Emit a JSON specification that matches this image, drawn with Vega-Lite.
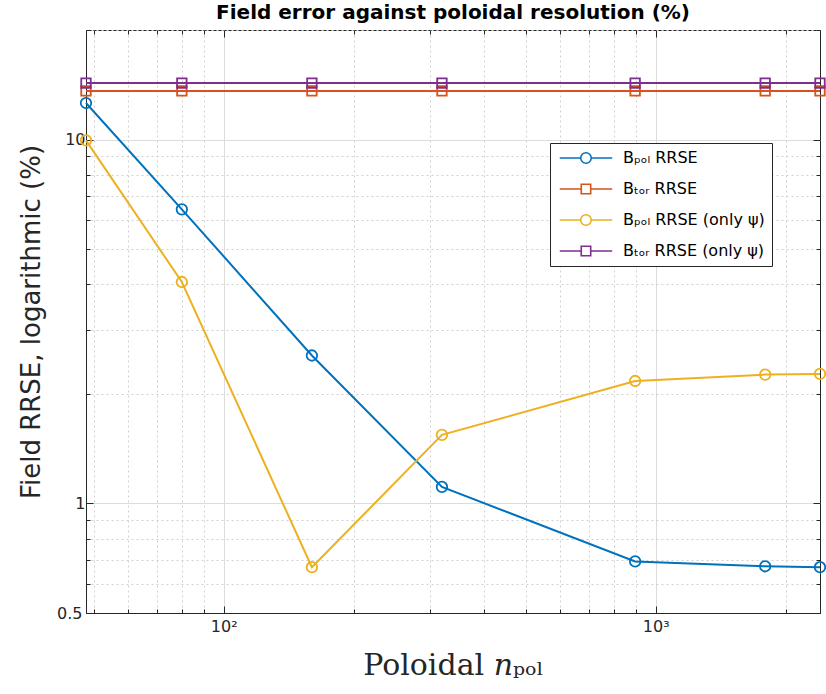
{
  "$schema": "https://vega.github.io/schema/vega-lite/v6.json",
  "autosize": {"type": "none"},
  "padding": {"left": 86, "top": 30, "right": 6, "bottom": 81},
  "width": 734,
  "height": 583,
  "background": "white",
  "title": {
    "text": "Field error against poloidal resolution (%)",
    "font": "DejaVu Sans",
    "fontSize": 20,
    "fontWeight": "bold",
    "color": "#000000",
    "anchor": "middle",
    "offset": 7
  },
  "config": {
    "view": {"stroke": "#262626", "strokeWidth": 1},
    "axis": {
      "domainColor": "#262626",
      "tickColor": "#262626",
      "labelColor": "#262626",
      "titleColor": "#262626",
      "labelFont": "DejaVu Sans",
      "titleFont": "DejaVu Sans",
      "labelFontSize": 16,
      "titleFontWeight": "normal"
    }
  },
  "data": {
    "values": [
      {"series": "Bₚₒₗ RRSE", "n": 48, "err": 12.6},
      {"series": "Bₚₒₗ RRSE", "n": 80, "err": 6.43},
      {"series": "Bₚₒₗ RRSE", "n": 160, "err": 2.55},
      {"series": "Bₚₒₗ RRSE", "n": 320, "err": 1.11},
      {"series": "Bₚₒₗ RRSE", "n": 896, "err": 0.693},
      {"series": "Bₚₒₗ RRSE", "n": 1792, "err": 0.672},
      {"series": "Bₚₒₗ RRSE", "n": 2400, "err": 0.668},
      {"series": "Bₜₒᵣ RRSE", "n": 48, "err": 13.6},
      {"series": "Bₜₒᵣ RRSE", "n": 80, "err": 13.6},
      {"series": "Bₜₒᵣ RRSE", "n": 160, "err": 13.6},
      {"series": "Bₜₒᵣ RRSE", "n": 320, "err": 13.6},
      {"series": "Bₜₒᵣ RRSE", "n": 896, "err": 13.6},
      {"series": "Bₜₒᵣ RRSE", "n": 1792, "err": 13.6},
      {"series": "Bₜₒᵣ RRSE", "n": 2400, "err": 13.6},
      {"series": "Bₚₒₗ RRSE (only ψ)", "n": 48, "err": 9.95},
      {"series": "Bₚₒₗ RRSE (only ψ)", "n": 80, "err": 4.06},
      {"series": "Bₚₒₗ RRSE (only ψ)", "n": 160, "err": 0.668},
      {"series": "Bₚₒₗ RRSE (only ψ)", "n": 320, "err": 1.543},
      {"series": "Bₚₒₗ RRSE (only ψ)", "n": 896, "err": 2.17},
      {"series": "Bₚₒₗ RRSE (only ψ)", "n": 1792, "err": 2.26},
      {"series": "Bₚₒₗ RRSE (only ψ)", "n": 2400, "err": 2.27},
      {"series": "Bₜₒᵣ RRSE (only ψ)", "n": 48, "err": 14.3},
      {"series": "Bₜₒᵣ RRSE (only ψ)", "n": 80, "err": 14.3},
      {"series": "Bₜₒᵣ RRSE (only ψ)", "n": 160, "err": 14.3},
      {"series": "Bₜₒᵣ RRSE (only ψ)", "n": 320, "err": 14.3},
      {"series": "Bₜₒᵣ RRSE (only ψ)", "n": 896, "err": 14.3},
      {"series": "Bₜₒᵣ RRSE (only ψ)", "n": 1792, "err": 14.3},
      {"series": "Bₜₒᵣ RRSE (only ψ)", "n": 2400, "err": 14.3}
    ]
  },
  "resolve": {"axis": {"x": "independent", "y": "independent"}},
  "layer": [
    {
      "mark": {"type": "line", "strokeWidth": 2},
      "encoding": {
        "x": {
          "field": "n", "type": "quantitative",
          "scale": {"type": "log", "domain": [48, 2400], "nice": false, "zero": false},
          "axis": {
            "orient": "bottom",
            "values": [50, 60, 70, 80, 90, 100, 200, 300, 400, 500, 600, 700, 800, 900, 1000, 2000],
            "labelExpr": "datum.value == 100 ? '10²' : datum.value == 1000 ? '10³' : ''",
            "labelPadding": 12,
            "tickSize": {"condition": {"test": "datum.value == 100 || datum.value == 1000", "value": -7}, "value": -4},
            "grid": true,
            "gridColor": {"condition": {"test": "datum.value == 100 || datum.value == 1000", "value": "#dcdcdc"}, "value": "#d0d0d0"},
            "gridDash": {"condition": {"test": "datum.value == 100 || datum.value == 1000", "value": []}, "value": [2, 3]},
            "gridWidth": 1,
            "title": "Poloidal 𝑛ₚₒₗ",
            "titleFont": "DejaVu Serif",
            "titleFontSize": 30,
            "titleColor": "#262626",
            "titlePadding": 16
          }
        },
        "y": {
          "field": "err", "type": "quantitative",
          "scale": {"type": "log", "domain": [0.5, 20], "nice": false, "zero": false},
          "axis": {
            "orient": "left",
            "values": [0.5, 0.6, 0.7, 0.8, 0.9, 1, 2, 3, 4, 5, 6, 7, 8, 9, 10, 20],
            "labelExpr": "datum.value == 0.5 ? '0.5' : datum.value == 1 ? '1' : datum.value == 10 ? '10' : ''",
            "labelPadding": 8,
            "tickSize": {"condition": {"test": "datum.value == 1 || datum.value == 10", "value": -7}, "value": -4},
            "grid": true,
            "gridColor": {"condition": {"test": "datum.value == 1 || datum.value == 10", "value": "#dcdcdc"}, "value": "#d0d0d0"},
            "gridDash": {"condition": {"test": "datum.value == 1 || datum.value == 10", "value": []}, "value": [2, 3]},
            "gridWidth": 1,
            "title": "Field RRSE, logarithmic (%)",
            "titleFontSize": 26,
            "titlePadding": 12
          }
        },
        "color": {
          "field": "series", "type": "nominal",
          "scale": {
            "domain": ["Bₚₒₗ RRSE", "Bₜₒᵣ RRSE", "Bₚₒₗ RRSE (only ψ)", "Bₜₒᵣ RRSE (only ψ)"],
            "range": ["#0072BD", "#D95319", "#EDB120", "#7E2F8E"]
          },
          "legend": {
            "orient": "none",
            "legendX": 464,
            "legendY": 113,
            "title": null,
            "padding": 7,
            "strokeColor": "#262626",
            "fillColor": "white",
            "labelFont": "DejaVu Sans",
            "labelFontSize": 16,
            "labelColor": "#000000",
            "labelOffset": 50,
            "labelLimit": 300,
            "symbolSize": 110,
            "symbolStrokeWidth": 1.6,
            "symbolFillColor": "transparent",
            "rowPadding": 14,
            "encode": {
              "symbols": {
                "update": {
                  "shape": {"signal": "indexof(datum.value, 'ₜ') >= 0 ? 'M-1,0H3.1M3.1,-0.9H4.9V0.9H3.1ZM4.9,0H9' : 'M-1,0H3A1,1 0 1,1 5,0A1,1 0 1,1 3,0M5,0H9'"},
                  "fill": {"value": "transparent"},
                  "strokeWidth": {"value": 1.6},
                  "opacity": {"value": 1}
                }
              }
            }
          }
        }
      }
    },
    {
      "transform": [{"filter": "indexof(datum.series, 'ₚ') >= 0"}],
      "mark": {"type": "point", "shape": "circle", "filled": false, "strokeWidth": 1.8, "size": 110, "opacity": 1},
      "encoding": {
        "x": {
          "field": "n", "type": "quantitative",
          "axis": {
            "orient": "top",
            "values": [50, 60, 70, 80, 90, 100, 200, 300, 400, 500, 600, 700, 800, 900, 1000, 2000],
            "labels": false,
            "grid": false,
            "domain": false,
            "tickSize": {"condition": {"test": "datum.value == 100 || datum.value == 1000", "value": -7}, "value": -4},
            "title": null
          }
        },
        "y": {
          "field": "err", "type": "quantitative",
          "axis": {
            "orient": "right",
            "values": [0.5, 0.6, 0.7, 0.8, 0.9, 1, 2, 3, 4, 5, 6, 7, 8, 9, 10, 20],
            "labels": false,
            "grid": false,
            "domain": false,
            "tickSize": {"condition": {"test": "datum.value == 1 || datum.value == 10", "value": -7}, "value": -4},
            "title": null
          }
        },
        "color": {"field": "series", "type": "nominal"}
      }
    },
    {
      "transform": [{"filter": "indexof(datum.series, 'ₜ') >= 0"}],
      "mark": {"type": "point", "shape": "square", "filled": false, "strokeWidth": 1.8, "size": 90, "opacity": 1},
      "encoding": {
        "x": {"field": "n", "type": "quantitative", "axis": null},
        "y": {"field": "err", "type": "quantitative", "axis": null},
        "color": {"field": "series", "type": "nominal"}
      }
    }
  ]
}
